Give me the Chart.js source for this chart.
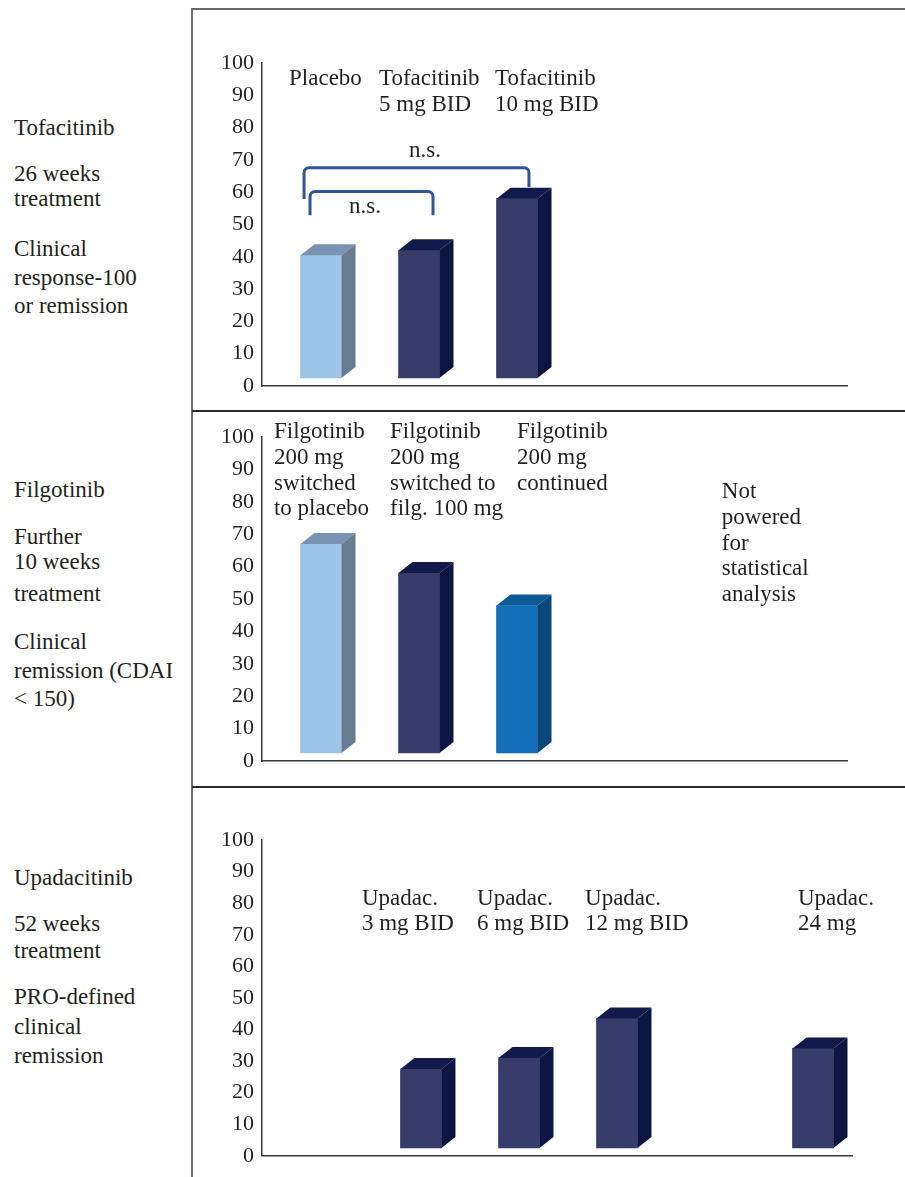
<!DOCTYPE html>
<html>
<head>
<meta charset="utf-8">
<script src="https://cdn.jsdelivr.net/npm/chart.js@4.4.0/dist/chart.umd.min.js"></script>
<style>
  body { margin: 0; background: #fff; width: 905px; height: 1177px; position: relative; overflow: hidden;
         font-family: "Liberation Serif", serif; color: #231f20; }
  .rule { position: absolute; }
  .side { position: absolute; left: 14px; font-size: 23px; line-height: 26px; white-space: nowrap; }
  canvas { position: absolute; }
</style>
</head>
<body>

<!-- frame -->
<div class="rule" style="left:191px; top:8px; width:2px; height:1169px; background:#6b6b6b;"></div>
<div class="rule" style="left:192px; top:8px; width:713px; height:2px; background:#666;"></div>
<div class="rule" style="left:192px; top:410px; width:713px; height:2px; background:#2a2a2a;"></div>
<div class="rule" style="left:192px; top:786px; width:713px; height:2px; background:#2a2a2a;"></div>

<!-- left column -->
<div class="side" style="top:115px">Tofacitinib</div>
<div class="side" style="top:161px">26 weeks</div>
<div class="side" style="top:186px">treatment</div>
<div class="side" style="top:236px">Clinical</div>
<div class="side" style="top:265px">response-100</div>
<div class="side" style="top:293px">or remission</div>

<div class="side" style="top:477px">Filgotinib</div>
<div class="side" style="top:524px">Further</div>
<div class="side" style="top:549px">10 weeks</div>
<div class="side" style="top:581px">treatment</div>
<div class="side" style="top:629px">Clinical</div>
<div class="side" style="top:658px">remission (CDAI</div>
<div class="side" style="top:686px">&lt; 150)</div>

<div class="side" style="top:865px">Upadacitinib</div>
<div class="side" style="top:911px">52 weeks</div>
<div class="side" style="top:938px">treatment</div>
<div class="side" style="top:984px">PRO-defined</div>
<div class="side" style="top:1014px">clinical</div>
<div class="side" style="top:1043px">remission</div>

<canvas id="tofa" width="712" height="399" style="left:193px; top:11px;"></canvas>
<canvas id="filgo" width="712" height="373" style="left:193px; top:413px;"></canvas>
<canvas id="upa" width="712" height="388" style="left:193px; top:789px;"></canvas>

<script>
// ---- data ----
const valueTicks = [0, 10, 20, 30, 40, 50, 60, 70, 80, 90, 100];

const tofaLabels = [['Placebo'], ['Tofacitinib', '5 mg BID'], ['Tofacitinib', '10 mg BID']];
const tofaSlots = [1, 2, 3];
const tofaValues = [40.5, 42, 58];

const filgoLabels = [
  ['Filgotinib', '200 mg', 'switched', 'to placebo'],
  ['Filgotinib', '200 mg', 'switched to', 'filg. 100 mg'],
  ['Filgotinib', '200 mg', 'continued']
];
const filgoSlots = [1, 2, 3];
const filgoValues = [67, 58, 48];

const upaLabels = [['Upadac.', '3 mg BID'], ['Upadac.', '6 mg BID'], ['Upadac.', '12 mg BID'], ['Upadac.', '24 mg']];
const upaSlots = [2, 3, 4, 6];
const upaValues = [27.5, 31, 43.5, 34];

// ---- styles ----
const LIGHT = { front: '#9dc3e6', side: '#677b93', top: '#7993b3' };
const NAVY = { front: '#383c6a', side: '#0c1640', top: '#111a4a' };
const BLUE = { front: '#1470b8', side: '#0a4777', top: '#0b5995' };
const INK = '#231f20';
const FONT = '23px "Liberation Serif"';

Chart.defaults.font.family = 'Liberation Serif';

// side and top faces of the pseudo 3D columns
const bar3d = {
  id: 'bar3d',
  afterDatasetsDraw(chart, args, opts) {
    const ctx = chart.ctx;
    const ds = chart.data.datasets[0];
    chart.getDatasetMeta(0).data.forEach((bar, i) => {
      const { x, y, base, width } = bar.getProps(['x', 'y', 'base', 'width'], true);
      const l = x - width / 2, r = x + width / 2;
      ctx.save();
      ctx.fillStyle = ds.topColors[i];
      ctx.beginPath();
      ctx.moveTo(l, y);
      ctx.lineTo(l + opts.dx, y - opts.dy);
      ctx.lineTo(r + opts.dx, y - opts.dy);
      ctx.lineTo(r, y);
      ctx.closePath();
      ctx.fill();
      ctx.fillStyle = ds.sideColors[i];
      ctx.beginPath();
      ctx.moveTo(r, y);
      ctx.lineTo(r + opts.dx, y - opts.dy);
      ctx.lineTo(r + opts.dx, base - opts.dy);
      ctx.lineTo(r, base);
      ctx.closePath();
      ctx.fill();
      ctx.restore();
    });
  }
};

// category captions, notes and significance brackets
const notes = {
  id: 'notes',
  afterDraw(chart, args, opts) {
    const ctx = chart.ctx;
    const xs = chart.scales.x, ys = chart.scales.y;
    ctx.save();
    ctx.font = FONT;
    ctx.fillStyle = INK;
    ctx.textBaseline = 'alphabetic';
    ctx.textAlign = 'left';
    opts.labels.forEach((lines, i) => {
      const x = xs.getPixelForValue(opts.labelX[i]);
      const y0 = ys.getPixelForValue(opts.labelY);
      lines.forEach((t, j) => ctx.fillText(t, x, y0 + j * opts.step));
    });
    (opts.texts || []).forEach(n => {
      ctx.textAlign = n.align || 'left';
      const x = xs.getPixelForValue(n.x);
      const y0 = ys.getPixelForValue(n.y);
      n.lines.forEach((t, j) => ctx.fillText(t, x, y0 + j * opts.step));
    });
    (opts.brackets || []).forEach(b => {
      const x1 = xs.getPixelForValue(b.x1), x2 = xs.getPixelForValue(b.x2);
      const yt = ys.getPixelForValue(b.top);
      const yl = ys.getPixelForValue(b.left), yr = ys.getPixelForValue(b.right);
      const rad = 5;
      ctx.strokeStyle = '#2f5597';
      ctx.lineWidth = 3;
      ctx.beginPath();
      ctx.moveTo(x1, yl);
      ctx.lineTo(x1, yt + rad);
      ctx.arcTo(x1, yt, x1 + rad, yt, rad);
      ctx.lineTo(x2 - rad, yt);
      ctx.arcTo(x2, yt, x2, yt + rad, rad);
      ctx.lineTo(x2, yr);
      ctx.stroke();
    });
    ctx.restore();
  }
};

function makeChart(id, slots, values, palette, cfg) {
  return new Chart(document.getElementById(id), {
    type: 'bar',
    data: {
      datasets: [{
        data: slots.map((s, i) => ({ x: s, y: values[i] })),
        backgroundColor: palette.map(p => p.front),
        sideColors: palette.map(p => p.side),
        topColors: palette.map(p => p.top),
        base: 2.5,
        barThickness: 41,
        borderWidth: 0
      }]
    },
    options: {
      responsive: false,
      animation: false,
      layout: { padding: { left: 0, right: cfg.padR, top: cfg.padT, bottom: cfg.padB } },
      plugins: {
        legend: { display: false },
        tooltip: { enabled: false },
        bar3d: { dx: 14, dy: 11 },
        notes: cfg.notes
      },
      scales: {
        x: {
          type: 'linear', min: cfg.xMin, max: cfg.xMax, offset: false,
          ticks: { display: false },
          grid: { display: false, drawTicks: false },
          border: { display: true, color: '#3a3a3a', width: 1.5 }
        },
        y: {
          min: 0, max: 100,
          afterBuildTicks: s => { s.ticks = valueTicks.map(v => ({ value: v })); },
          afterFit: s => { s.width = 69; },
          ticks: { font: { size: 22 }, color: INK, padding: 8 },
          grid: { display: false, drawTicks: false },
          border: { display: true, color: '#3a3a3a', width: 1.5 }
        }
      }
    },
    plugins: [bar3d, notes]
  });
}

makeChart('tofa', tofaSlots, tofaValues, [LIGHT, NAVY, NAVY], {
  xMin: 0.398, xMax: 6.367, padR: 58, padT: 52, padB: 24,
  notes: {
    labels: tofaLabels, labelX: [0.674, 1.592, 2.776], labelY: 93.2, step: 26,
    texts: [
      { x: 2.061, y: 71, lines: ['n.s.'], align: 'center' },
      { x: 1.449, y: 53.5, lines: ['n.s.'], align: 'center' }
    ],
    brackets: [
      { x1: 0.827, x2: 3.122, top: 67.6, left: 57.9, right: 61.6 },
      { x1: 0.888, x2: 2.143, top: 60.2, left: 52.9, right: 52.9 }
    ]
  }
});

makeChart('filgo', filgoSlots, filgoValues, [LIGHT, NAVY, BLUE], {
  xMin: 0.398, xMax: 6.367, padR: 58, padT: 24, padB: 25,
  notes: {
    labels: filgoLabels, labelX: [0.52, 1.704, 3.0], labelY: 99.6, step: 25.7,
    texts: [
      { x: 5.09, y: 81.1, lines: ['Not', 'powered', 'for', 'statistical', 'analysis'] }
    ]
  }
});

makeChart('upa', upaSlots, upaValues, [NAVY, NAVY, NAVY, NAVY], {
  xMin: 0.378, xMax: 6.398, padR: 53, padT: 51, padB: 20,
  notes: {
    labels: upaLabels, labelX: [1.398, 2.572, 3.674, 5.847], labelY: 79.5, step: 25
  }
});
</script>
</body>
</html>
